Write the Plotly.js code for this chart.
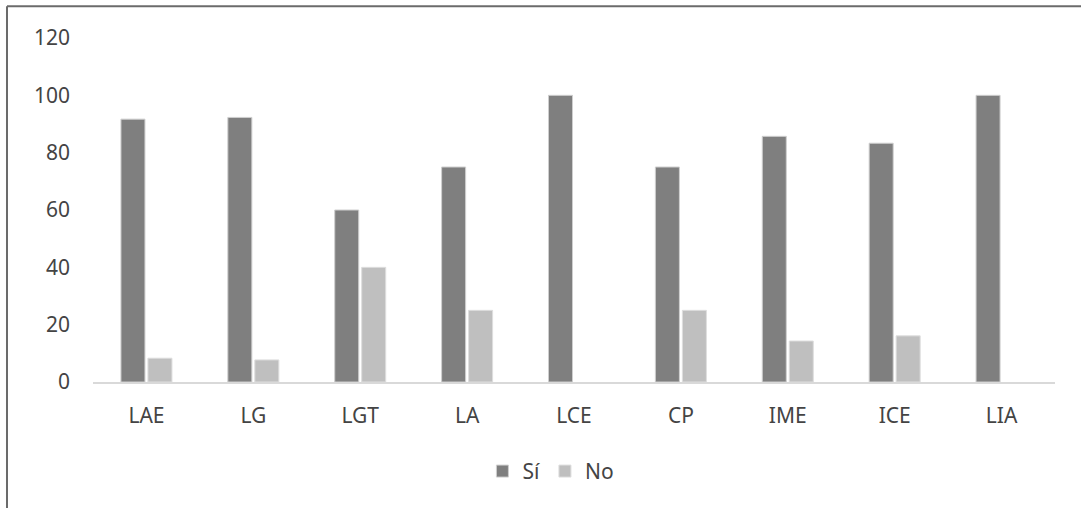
<!DOCTYPE html>
<html>
<head>
<meta charset="utf-8">
<script src="https://cdn.plot.ly/plotly-3.0.1.min.js"></script>
<style>
  html, body { margin: 0; padding: 0; background: #ffffff; }
  #chart { width: 1081px; height: 508px; }
</style>
</head>
<body>
<div id="chart"></div>
<script>
// Programas y respuestas (%)
const programas = ["LAE", "LG", "LGT", "LA", "LCE", "CP", "IME", "ICE", "LIA"];
const si = [91.7, 92.3, 60, 75, 100, 75, 85.7, 83.3, 100];
const no = [8.3, 7.7, 40, 25, 0, 25, 14.3, 16.1, 0];
const yTicks = [0, 20, 40, 60, 80, 100, 120];

const textColor = "#444444";
const fontFamily = "'Noto Sans', 'Open Sans', sans-serif";
const fontSize = 21;

// contorno claro sólo en barras con valor
const outline = vals => vals.map(v => (v > 0 ? 1 : 0));

const traces = [
  {
    type: "bar",
    name: "Sí",
    x: programas,
    y: si,
    marker: { color: "#7f7f7f", line: { color: "#cfcfcf", width: outline(si) } },
    hoverinfo: "skip"
  },
  {
    type: "bar",
    name: "No",
    x: programas,
    y: no,
    marker: { color: "#bfbfbf", line: { color: "#dedede", width: outline(no) } },
    hoverinfo: "skip"
  }
];

const layout = {
  width: 1081,
  height: 508,
  paper_bgcolor: "#ffffff",
  plot_bgcolor: "#ffffff",
  margin: { l: 93, r: 26, t: 38, b: 126 },
  barmode: "group",
  bargap: 0.495,
  bargroupgap: 0.11,
  font: { family: fontFamily, size: fontSize, color: textColor },
  showlegend: true,
  legend: {
    orientation: "h",
    x: 0.476,
    xanchor: "center",
    y: -0.26,
    yanchor: "middle",
    font: { family: fontFamily, size: fontSize, color: textColor },
    itemwidth: 30,
    traceorder: "normal"
  },
  xaxis: {
    type: "category",
    showgrid: false,
    zeroline: false,
    showline: true,
    linecolor: "#d9d9d9",
    linewidth: 1.5,
    ticks: "",
    tickfont: { family: fontFamily, size: fontSize, color: textColor },
    ticklabelstandoff: 14,
    fixedrange: true
  },
  yaxis: {
    range: [0, 120],
    tickvals: yTicks,
    ticktext: yTicks.map(String),
    showgrid: false,
    zeroline: false,
    showline: false,
    ticks: "",
    ticklabelstandoff: 22,
    tickfont: { family: fontFamily, size: fontSize, color: textColor },
    fixedrange: true
  },
  shapes: [
    // marco del gráfico (bordes superior e izquierdo)
    {
      type: "line", xref: "paper", yref: "paper",
      x0: -0.0894, x1: 1.1, y0: 1.092, y1: 1.092,
      line: { color: "#6b6b6b", width: 2 }
    },
    {
      type: "line", xref: "paper", yref: "paper",
      x0: -0.0894, x1: -0.0894, y0: 1.092, y1: -0.4,
      line: { color: "#6b6b6b", width: 2 }
    }
  ]
};

Plotly.newPlot("chart", traces, layout, { displayModeBar: false, staticPlot: true });
</script>
</body>
</html>
